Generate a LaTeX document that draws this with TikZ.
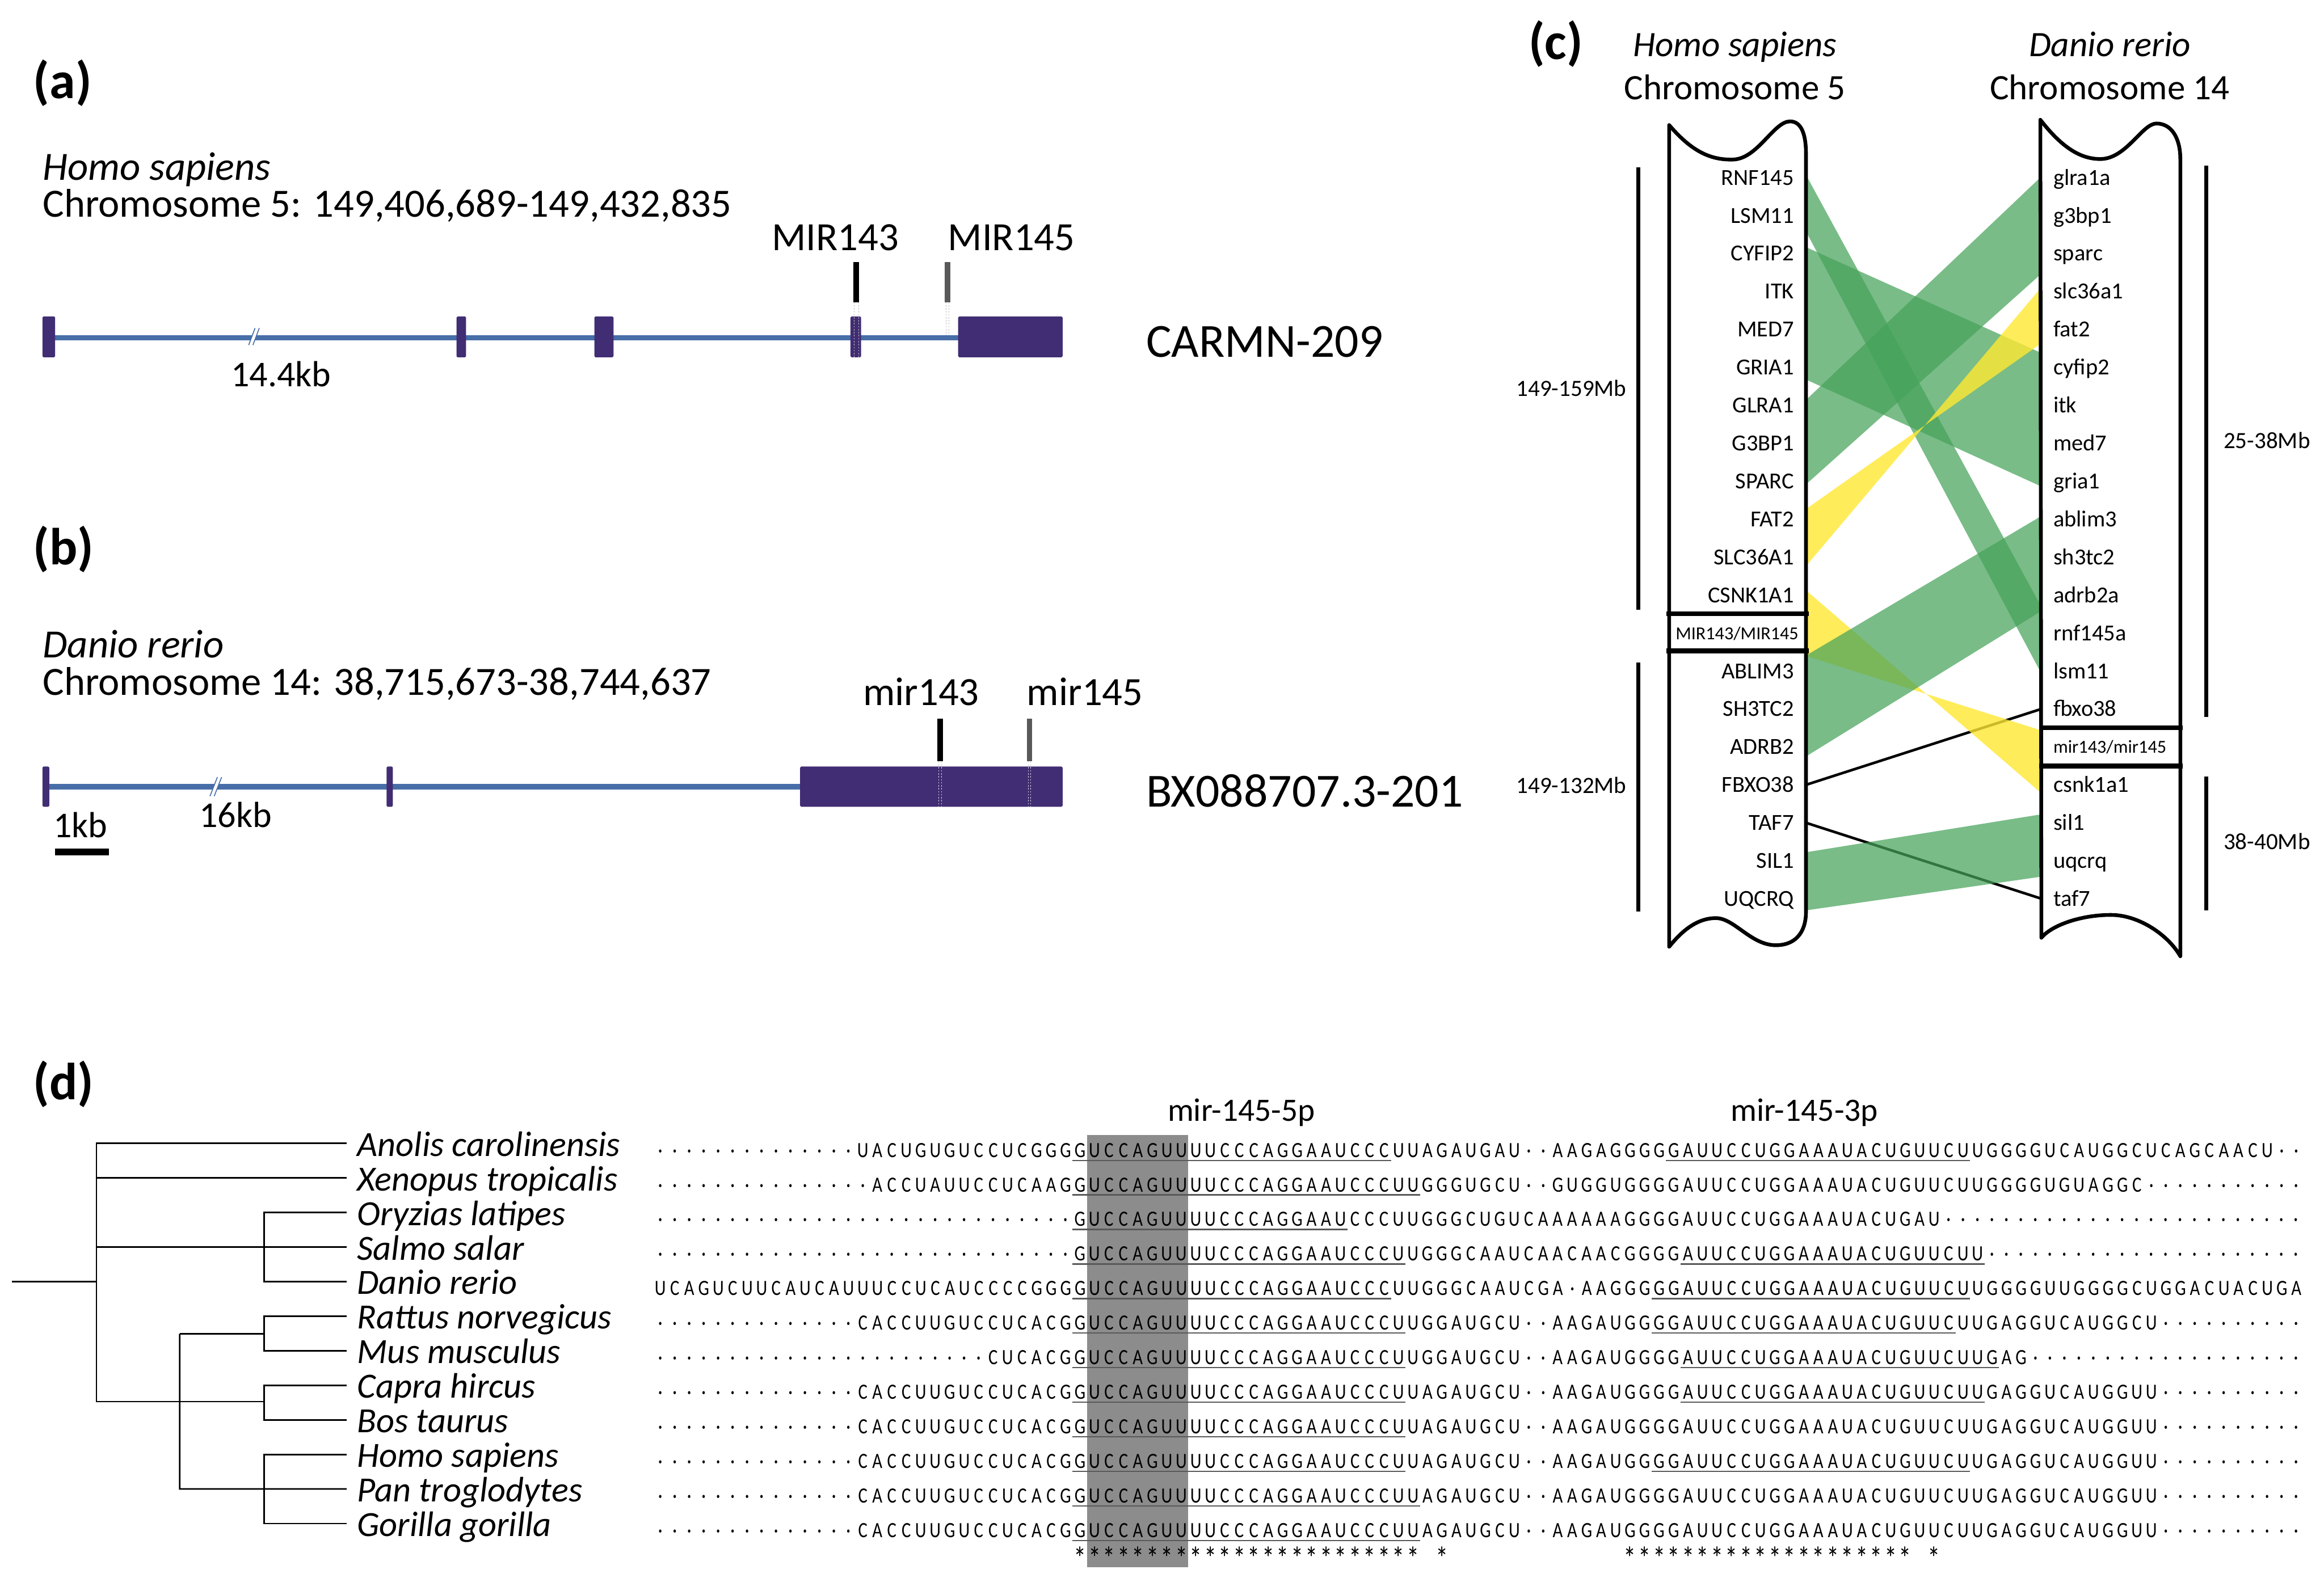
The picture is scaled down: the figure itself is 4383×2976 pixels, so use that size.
\documentclass[tikz,border=0pt]{standalone}
\usepackage{fontspec}
\setmainfont{Carlito}
\newfontfamily\seqfont{Carlito}[FakeStretch=0.8]
\usepackage{tikz}
\usetikzlibrary{calc}

\definecolor{exoncol}{RGB}{65,45,115}
\definecolor{introncol}{RGB}{72,110,168}
\definecolor{syntcol}{RGB}{70,163,90}
\definecolor{invcol}{RGB}{255,232,50}

% one fixed-width cell per alignment column
\newlength\seqw
\setlength\seqw{2.73mm}
\newcommand\seqchar[1]{\makebox[\seqw][c]{\ifx.#1\textperiodcentered\else\ifx-#1\relax\else#1\fi\fi}}
\def\seqrun#1{\ifx\relax#1\else\seqchar{#1}\expandafter\seqrun\fi}

\begin{document}
\begin{tikzpicture}[x=0.1mm, y=-0.1mm,
  plabel/.style={font=\fontsize{28}{30}\selectfont\bfseries, inner sep=0pt},
  hdr/.style={font=\fontsize{21.5}{24}\selectfont, inner sep=0pt, anchor=base west},
  kb/.style={font=\fontsize{19.5}{22}\selectfont, inner sep=0pt, anchor=base west},
  tname/.style={font=\fontsize{25.5}{28}\selectfont, inner sep=0pt, anchor=base west},
  ctitle/.style={font=\fontsize{19.2}{22}\selectfont, inner sep=0pt, anchor=base},
  hgene/.style={font=\fontsize{12.3}{14}\selectfont, inner sep=0pt, anchor=base east},
  zgene/.style={font=\fontsize{12.3}{14}\selectfont, inner sep=0pt, anchor=base west},
  mirtag/.style={font=\fontsize{9.8}{11}\selectfont, inner sep=0pt},
  mb/.style={font=\fontsize{12.5}{14}\selectfont, inner sep=0pt},
  species/.style={font=\fontsize{19}{22}\selectfont\itshape, inner sep=0pt, anchor=base west},
  seq/.style={font=\seqfont\fontsize{11.7}{13}\selectfont, inner sep=0pt, anchor=base west},
  consv/.style={font=\seqfont\fontsize{17}{19}\selectfont, inner sep=0pt, anchor=base west},
  arm/.style={font=\fontsize{17.5}{20}\selectfont, inner sep=0pt, anchor=base},
  exon/.style={fill=exoncol, rounded corners=0.6pt},
  intron/.style={draw=introncol, line width=2.85pt},
  brk/.style={draw=introncol, line width=0.5pt},
  mirdots/.style={draw=black!25, line width=0.3pt, dash pattern=on 0.8pt off 0.8pt},
  chrom/.style={draw, line width=2pt, line join=round},
  mirbox/.style={draw, line width=2.6pt},
  span/.style={draw, line width=2pt},
  band/.style={fill=syntcol, fill opacity=0.72},
  flip/.style={fill=invcol, fill opacity=0.8},
  orth/.style={draw, line width=1.4pt},
  tree/.style={draw, line width=0.85pt},
  uline/.style={draw=black!65, line width=0.7pt},
  seed/.style={fill=black!45}
]
\useasboundingbox (0,0) rectangle (4383,2976);
\fill[white] (0,0) rectangle (4383,2976);

% ---------- (a) Homo sapiens transcript
\node[plabel] (pa) at (118,157) {(a)};
\node[hdr] (hsname) at (80,340) {\itshape Homo sapiens};
\node[hdr] (hsloc) at (80,409) {Chromosome 5: 149,406,689-149,432,835};
\node[hdr] (mir143a) at (1455,472) {MIR143};
\node[hdr] (mir145a) at (1787,472) {MIR145};
\node[kb] (kba) at (435,729) {14.4kb};
\node[tname] (carmn) at (2161,674) {CARMN-209};
\draw[intron] (89,637) -- (1807,637);
\fill[white] (469,651) -- (477,651) -- (489,619) -- (481,619) -- cycle;
\draw[brk] (469,651) -- (481,619) (477,651) -- (489,619);
\fill[exon] (80,597) rectangle (104,674);
\fill[exon] (861,597) rectangle (879,674);
\fill[exon] (1121,597) rectangle (1157,674);
\fill[exon] (1604,597) rectangle (1624,674);
\fill[exon] (1807,597) rectangle (2004,674);
\fill (1609.5,494) rectangle (1620.5,570);
\fill[black!65] (1782,494) rectangle (1792,570);
\draw[mirdots] (1611,570) -- (1611,674) (1619,570) -- (1619,674);
\draw[mirdots] (1784,570) -- (1784,632) (1790,570) -- (1790,632);

% ---------- (b) Danio rerio transcript
\node[plabel] (pb) at (120,1036) {(b)};
\node[hdr] (drname) at (80,1241) {\itshape Danio rerio};
\node[hdr] (drloc) at (80,1311) {Chromosome 14: 38,715,673-38,744,637};
\node[hdr] (mir143b) at (1627,1331) {mir143};
\node[hdr] (mir145b) at (1936,1331) {mir145};
\node[kb] (kbb) at (375,1561) {16kb};
\node[kb] (kbs) at (100,1580) {1kb};
\node[tname] (bx) at (2161,1522) {BX088707.3-201};
\draw[intron] (89,1484) -- (1509,1484);
\fill[white] (396,1502) -- (404,1502) -- (418,1466) -- (410,1466) -- cycle;
\draw[brk] (396,1502) -- (410,1466) (404,1502) -- (418,1466);
\fill[exon] (80,1446) rectangle (93,1522);
\fill[exon] (729,1446) rectangle (741,1522);
\fill[exon] (1509,1446) rectangle (2004,1522);
\fill (1767.5,1356) rectangle (1778.5,1436);
\fill[black!65] (1937,1356) rectangle (1946,1436);
\draw[mirdots, draw=white!80!exoncol] (1770,1436) -- (1770,1522) (1776,1436) -- (1776,1522);
\draw[mirdots, draw=white!80!exoncol] (1939,1436) -- (1939,1522) (1944,1436) -- (1944,1522);
\fill (104,1601) rectangle (205,1614);

% ---------- (c) synteny
\node[plabel] (pc) at (2934,83) {(c)};
\node[ctitle] (chs) at (3272,107) {\itshape Homo sapiens};
\node[ctitle] (chs5) at (3272,188) {Chromosome 5};
\node[ctitle] (cdr) at (3979,107) {\itshape Danio rerio};
\node[ctitle] (cdr14) at (3979,188) {Chromosome 14};

\foreach \k in {0,...,19} {
  \coordinate (h\k) at (3406,{335+71.6*\k});
  \coordinate (z\k) at (3850,{335+71.6*\k});
}
\foreach \g [count=\k from 0] in {RNF145,LSM11,CYFIP2,ITK,MED7,GRIA1,GLRA1,G3BP1,SPARC,FAT2,SLC36A1,CSNK1A1}
  \node[hgene] (hn\k) at (3384,{349+71.6*\k}) {\g};
\foreach \g [count=\k from 13] in {ABLIM3,SH3TC2,ADRB2,FBXO38,TAF7,SIL1,UQCRQ}
  \node[hgene] (hn\k) at (3384,{349+71.6*\k}) {\g};
\node[mirtag, anchor=base] (hn12) at (3276,1207) {MIR143/MIR145};
\foreach \g [count=\k from 0] in {glra1a,g3bp1,sparc,slc36a1,fat2,cyfip2,itk,med7,gria1,ablim3,sh3tc2,adrb2a,rnf145a,lsm11,fbxo38}
  \node[zgene] (zn\k) at (3872,{349+71.6*\k}) {\g};
\foreach \g [count=\k from 16] in {csnk1a1,sil1,uqcrq,taf7}
  \node[zgene] (zn\k) at (3872,{349+71.6*\k}) {\g};
\node[mirtag, anchor=base west] (zn15) at (3872,1420) {mir143/mir145};

% single-gene links
\draw[orth] (h16) -- (z14);
\draw[orth] (h17) -- (z19);
% syntenic blocks
\fill[band] ($(h0)+(0,-5)$) -- ($(z12)+(0,-49)$) -- ($(z13)+(0,5)$) -- ($(h1)+(0,30)$) -- cycle;
\fill[band] ($(h2)+(0,-12)$) -- ($(z5)+(0,-27)$) -- ($(z8)+(0,10)$) -- ($(h5)+(0,23)$) -- cycle;
\fill[band] ($(h6)+(0,-10)$) -- ($(z0)+(0,-2)$) -- ($(z2)+(0,38)$) -- ($(h8)+(0,6)$) -- cycle;
\fill[flip] ($(h9)+(0,-19)$) -- ($(z4)+(0,26)$) -- ($(z3)+(0,-8)$) -- ($(h10)+(0,17)$) -- cycle;
\fill[flip] ($(h11)+(0,-9)$) -- ($(z16)+(0,16)$) -- ($(z15)+(0,-31)$) -- ($(h12)+(0,43)$) -- cycle;
\fill[band] ($(h13)+(0,-29)$) -- ($(z9)+(0,-6)$) -- ($(z11)+(0,30)$) -- ($(h15)+(0,18)$) -- cycle;
\fill[band] ($(h18)+(0,-16)$) -- ($(z17)+(0,-16)$) -- ($(z18)+(0,30)$) -- ($(h19)+(0,22)$) -- cycle;

% chromosomes
\draw[chrom] (3148,236) .. controls (3190,285) and (3225,302) .. (3268,301)
  .. controls (3315,300) and (3345,229) .. (3376,229)
  .. controls (3398,229) and (3406,255) .. (3406,290) -- (3406,1720)
  .. controls (3406,1760) and (3385,1785) .. (3345,1783)
  .. controls (3300,1780) and (3270,1732) .. (3236,1732)
  .. controls (3195,1732) and (3165,1765) .. (3148,1786) -- cycle;
\draw[chrom] (3848,226) .. controls (3890,280) and (3925,300) .. (3961,300)
  .. controls (4010,300) and (4040,233) .. (4067,233)
  .. controls (4095,233) and (4112,260) .. (4112,300) -- (4112,1804)
  .. controls (4090,1765) and (4035,1726) .. (3981,1726)
  .. controls (3925,1726) and (3870,1745) .. (3850,1769) -- cycle;
\draw[mirbox] (3143,1158) -- (3411,1158) (3143,1228) -- (3411,1228);
\draw[mirbox] (3846,1373) -- (4116,1373) (3846,1445) -- (4116,1445);

% Mb ranges
\draw[span] (3090,316) -- (3090,1150);
\draw[span] (3090,1250) -- (3090,1720);
\draw[span] (4161,312) -- (4161,1353);
\draw[span] (4161,1465) -- (4161,1717);
\node[mb, anchor=base east] (r1) at (3068,747) {149-159Mb};
\node[mb, anchor=base east] (r2) at (3068,1496) {149-132Mb};
\node[mb, anchor=base west] (r3) at (4193,846) {25-38Mb};
\node[mb, anchor=base west] (r4) at (4193,1602) {38-40Mb};

% ---------- (d) tree and alignment
\node[plabel] (pd) at (120,2045) {(d)};
\foreach \n [count=\i from 0] in {Anolis carolinensis,Xenopus tropicalis,Oryzias latipes,Salmo salar,Danio rerio,Rattus norvegicus,Mus musculus,Capra hircus,Bos taurus,Homo sapiens,Pan troglodytes,Gorilla gorilla} {
  \node[species] (sp\i) at (673,{2181+65.2*\i}) {\n};
  \coordinate (lf\i) at (654,{2157+65.2*\i});
}
\coordinate (root) at (22,2418);
\coordinate (n0) at (182,2418);
\coordinate (vb) at (182,2644);
\coordinate (mam) at (498,2644);
\coordinate (rod) at (339,2516);
\coordinate (pri) at (339,2809);
\draw[tree] (root) -- (n0);
\draw[tree] (lf0) -- (lf0 -| n0) -- (vb) -- (mam);
\draw[tree] (lf1) -- (lf1 -| n0);
\draw[tree] (lf3) -- (lf3 -| n0);
\draw[tree] (lf2) -- (lf2 -| mam) -- (lf4 -| mam) -- (lf4);
\draw[tree] (lf7) -- (lf7 -| mam) -- (lf8 -| mam) -- (lf8);
\draw[tree] (rod) -- (rod -| mam);
\draw[tree] (lf5) -- (lf5 -| mam) -- (lf6 -| mam) -- (lf6);
\draw[tree] (rod) -- (pri) -- (lf10);
\draw[tree] (lf9) -- (lf9 -| mam) -- (lf11 -| mam) -- (lf11);

\fill[seed] (2050,2141) rectangle (2241,2957);
\node[arm] (arm5) at (2341,2115) {mir-145-5p};
\node[arm] (arm3) at (3403,2115) {mir-145-3p};

\node[seq] (q0) at (1231,2183) {\seqrun ..... ..... .... UACUGUGUCCUCGGG GUCCAGUUUUCCCAGGAAUCCCUUAGAUGAU .. AAGAGGGGGAUUCCUGGAAAUACUGUUCUUGGGGUCAUGGCUCAGCAACU ..\relax};
\node[seq] (q1) at (1231,{2183+65.2}) {\seqrun ..... ..... ..... ACCUAUUCCUCAAG GUCCAGUUUUCCCAGGAAUCCCUUGGGUGCU .. GUGGUGGGGAUUCCUGGAAAUACUGUUCUUGGGGUGUAGGC ..... ..... .\relax};
\node[seq] (q2) at (1231,{2183+65.2*2}) {\seqrun ..... ..... ..... ..... ..... .... GUCCAGUUUUCCCAGGAAUCCCUUGGGCUGUCAAAAAAGGGGAUUCCUGGAAAUACUGAU ..... ..... ..... ..... .....\relax};
\node[seq] (q3) at (1231,{2183+65.2*3}) {\seqrun ..... ..... ..... ..... ..... .... GUCCAGUUUUCCCAGGAAUCCCUUGGGCAAUCAACAACGGGGAUUCCUGGAAAUACUGUUCUU ..... ..... ..... ..... ..\relax};
\node[seq] (q4) at (1231,{2183+65.2*4}) {\seqrun UCAGUCUUCAUCAUUUCCUCAUCCCCGGG GUCCAGUUUUCCCAGGAAUCCCUUGGGCAAUCGA . AAGGGGGAUUCCUGGAAAUACUGUUCUUGGGGUUGGGGCUGGACUACUGA\relax};
\node[seq] (q5) at (1231,{2183+65.2*5}) {\seqrun ..... ..... .... CACCUUGUCCUCACG GUCCAGUUUUCCCAGGAAUCCCUUGGAUGCU .. AAGAUGGGGAUUCCUGGAAAUACUGUUCUUGAGGUCAUGGCU ..... .....\relax};
\node[seq] (q6) at (1231,{2183+65.2*6}) {\seqrun ..... ..... ..... ..... ... CUCACG GUCCAGUUUUCCCAGGAAUCCCUUGGAUGCU .. AAGAUGGGGAUUCCUGGAAAUACUGUUCUUGAG ..... ..... ..... ....\relax};
\node[seq] (q7) at (1231,{2183+65.2*7}) {\seqrun ..... ..... .... CACCUUGUCCUCACG GUCCAGUUUUCCCAGGAAUCCCUUAGAUGCU .. AAGAUGGGGAUUCCUGGAAAUACUGUUCUUGAGGUCAUGGUU ..... .....\relax};
\node[seq] (q8) at (1231,{2183+65.2*8}) {\seqrun ..... ..... .... CACCUUGUCCUCACG GUCCAGUUUUCCCAGGAAUCCCUUAGAUGCU .. AAGAUGGGGAUUCCUGGAAAUACUGUUCUUGAGGUCAUGGUU ..... .....\relax};
\node[seq] (q9) at (1231,{2183+65.2*9}) {\seqrun ..... ..... .... CACCUUGUCCUCACG GUCCAGUUUUCCCAGGAAUCCCUUAGAUGCU .. AAGAUGGGGAUUCCUGGAAAUACUGUUCUUGAGGUCAUGGUU ..... .....\relax};
\node[seq] (q10) at (1231,{2183+65.2*10}) {\seqrun ..... ..... .... CACCUUGUCCUCACG GUCCAGUUUUCCCAGGAAUCCCUUAGAUGCU .. AAGAUGGGGAUUCCUGGAAAUACUGUUCUUGAGGUCAUGGUU ..... .....\relax};
\node[seq] (q11) at (1231,{2183+65.2*11}) {\seqrun ..... ..... .... CACCUUGUCCUCACG GUCCAGUUUUCCCAGGAAUCCCUUAGAUGCU .. AAGAUGGGGAUUCCUGGAAAUACUGUUCUUGAGGUCAUGGUU ..... .....\relax};
\node[consv] (stars) at (1231,2960) {\seqrun ----- ----- ----- ----- ----- ---- ***** ***** ***** ***** **** - * ----- ----- -- ***** ***** ***** ***** - *\relax};

% mature miRNA underlines (row / first column / last column)
\foreach \i/\a/\b in {0/29/50,1/29/52,2/29/47,3/29/51,4/29/50,5/29/51,6/29/51,7/29/51,8/29/51,9/29/51,10/29/52,11/29/52,
                      0/70/90,3/71/91,4/69/90,5/69/89,6/71/92,7/71/91,9/69/90}
  \draw[uline] ({1231+27.3*\a},{2189+65.2*\i}) -- ({1231+27.3*(\b+1)},{2189+65.2*\i});
\end{tikzpicture}
\end{document}
